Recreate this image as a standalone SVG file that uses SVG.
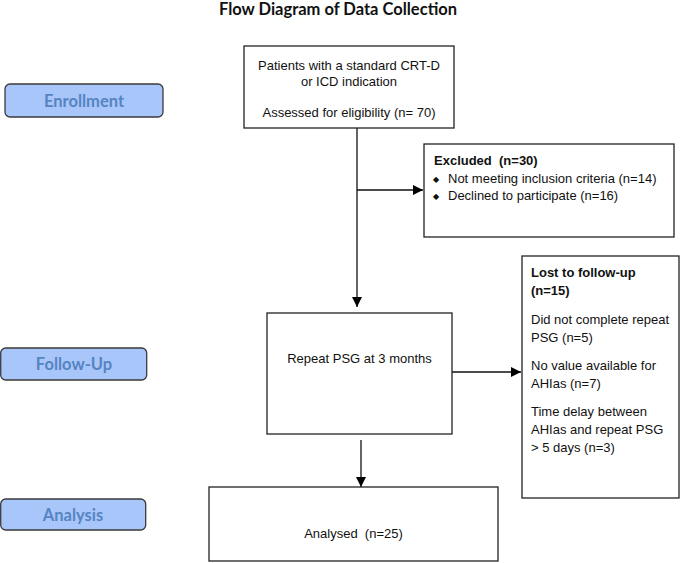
<svg xmlns="http://www.w3.org/2000/svg" width="685" height="563" viewBox="0 0 685 563">
<style>
.box{fill:#fff;stroke:#222;stroke-width:1.3}
.lane{fill:#a9c6fa;stroke:#3a3a3a;stroke-width:1.3}
.lt{font-family:Lato,"Open Sans","Liberation Sans",sans-serif;font-weight:bold;font-size:16.5px;fill:#5584c2;text-anchor:middle}
.t{font-family:"Liberation Sans",Arial,sans-serif;font-size:13px;fill:#111;white-space:pre}
.c{text-anchor:middle}
.b{font-weight:bold}
.bul{font-family:"DejaVu Sans",sans-serif;font-size:8px;fill:#111}
.ln{stroke:#111;stroke-width:1.3;fill:none}
</style>
<defs>
<marker id="ah" viewBox="0 0 10 10" refX="10" refY="5" markerWidth="10" markerHeight="10" markerUnits="userSpaceOnUse" orient="auto">
<path d="M0,0 L10,5 L0,10 Z" fill="#000"/>
</marker>
</defs>
<rect width="685" height="563" fill="#fff"/>
<text x="338" y="15" style="font-family:Lato,'Open Sans','Liberation Sans',sans-serif;font-weight:bold;font-size:16.5px;fill:#111" text-anchor="middle">Flow Diagram of Data Collection</text>

<g id="lane-enrollment">
<rect class="lane" x="5" y="84" width="158" height="33" rx="5"/>
<text class="lt" x="84" y="106.5">Enrollment</text>
</g>
<g id="lane-followup">
<rect class="lane" x="0.7" y="348" width="146" height="32" rx="5"/>
<text class="lt" x="74" y="370">Follow-Up</text>
</g>
<g id="lane-analysis">
<rect class="lane" x="0.7" y="499" width="145" height="31" rx="5"/>
<text class="lt" x="73" y="520.5">Analysis</text>
</g>

<g id="connectors">
<line class="ln" x1="357" y1="128" x2="357" y2="307" marker-end="url(#ah)"/>
<line class="ln" x1="357" y1="190" x2="423" y2="190" marker-end="url(#ah)"/>
<line class="ln" x1="452" y1="372" x2="521" y2="372" marker-end="url(#ah)"/>
<line class="ln" x1="361" y1="440" x2="361" y2="487" marker-end="url(#ah)"/>
</g>

<g id="node-assessed">
<rect class="box" x="244" y="46" width="210" height="82"/>
<text class="t c" x="349" y="70">Patients with a standard CRT-D</text>
<text class="t c" x="349" y="86">or ICD indication</text>
<text class="t c" x="349" y="117">Assessed for eligibility (n= 70)</text>
</g>

<g id="node-excluded">
<rect class="box" x="424" y="144" width="250" height="93"/>
<text class="t b" x="434" y="165">Excluded  (n=30)</text>
<text class="bul" x="433" y="182">◆</text>
<text class="t" x="448" y="183">Not meeting inclusion criteria (n=14)</text>
<text class="bul" x="433" y="199">◆</text>
<text class="t" x="448" y="200">Declined to participate (n=16)</text>
</g>

<g id="node-repeat">
<rect class="box" x="267" y="313" width="185" height="121"/>
<text class="t c" x="359.5" y="363">Repeat PSG at 3 months</text>
</g>

<g id="node-lost">
<rect class="box" x="522" y="256" width="157" height="242"/>
<text class="t b" x="531" y="277">Lost to follow-up</text>
<text class="t b" x="531" y="295">(n=15)</text>
<text class="t" x="531" y="324">Did not complete repeat</text>
<text class="t" x="531" y="342">PSG (n=5)</text>
<text class="t" x="531" y="370">No value available for</text>
<text class="t" x="531" y="388">AHIas (n=7)</text>
<text class="t" x="531" y="416">Time delay between</text>
<text class="t" x="531" y="434">AHIas and repeat PSG</text>
<text class="t" x="531" y="452">&gt; 5 days (n=3)</text>
</g>

<g id="node-analysed">
<rect class="box" x="209" y="487" width="289" height="74"/>
<text class="t c" x="353.5" y="538">Analysed  (n=25)</text>
</g>
</svg>
